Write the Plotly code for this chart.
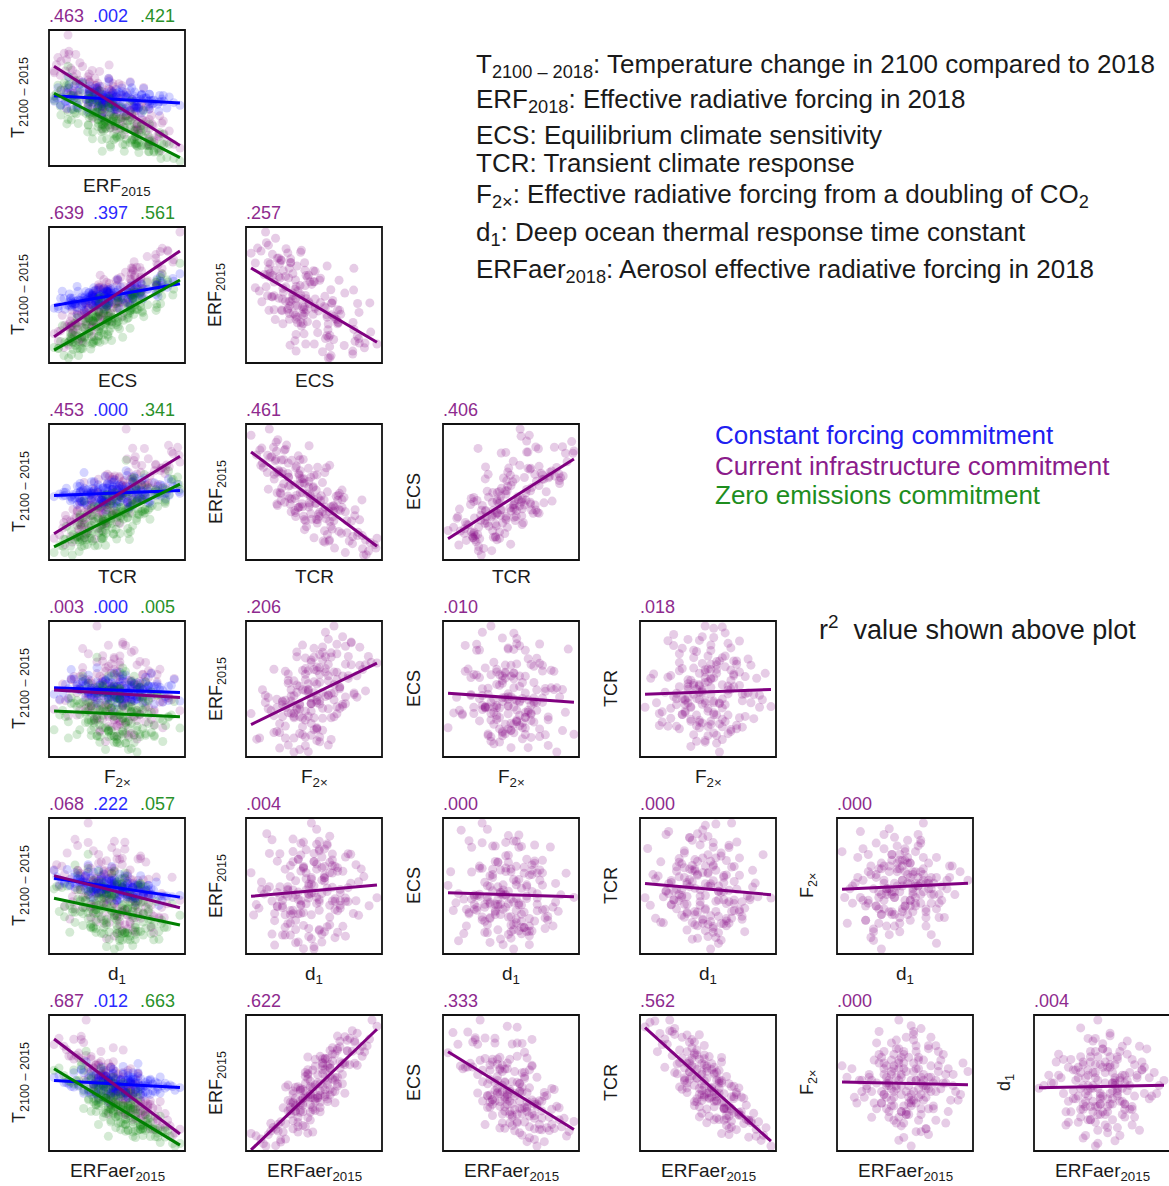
import numpy as np
import plotly.graph_objects as go

# ---------------------------------------------------------------------------
# Ensemble members (standardised values, one entry per member)
# ---------------------------------------------------------------------------
ERFAER = [
    0.3, -1.1, 0.9, -0.2, 1.6, -0.6, 0.0, -1.8, 0.6, -0.4,
    1.1, -0.9, 0.4, -0.1, 2.2, -1.4, 0.7, -0.3, 1.3, -0.7,
    0.1, -1.2, 0.5, -2.4, 0.8, -0.5, 1.0, -0.8, 0.2, -1.0,
    1.9, -0.2, 0.6, -1.5, 0.3, -0.6, 1.4, -0.1, 0.9, -2.0,
    0.0, 1.2, -0.9, 0.4, -0.3, 1.7, -0.7, 0.5, -1.3, 0.2,
    2.5, -0.4, 0.7, -1.1, 0.1, -0.6, 1.5, -0.2, -1.6, 0.8,
    -0.8, 0.3, -0.5, 1.0, -0.1, 0.6, -1.9, 0.4, -0.3, 1.1,
    -0.7, 0.0, 1.8, -1.2, 0.5, -0.4, 0.9, -2.2, 0.2, -0.9,
    1.3, -0.2, 0.7, -0.5, 0.3, -1.0, 1.6, -0.6, 0.1, -1.4,
    0.8, -0.3, 1.2, -0.8, 0.4, -1.7, 0.6, -0.1, 2.0, -0.5,
    0.5, -0.8, 1.2, -0.1, 0.3, -1.5, 0.9, -0.4, 0.0, 1.7,
    -0.6, 0.4, -1.0, 0.7, -0.3, 2.1, -0.2, 0.6, -1.2, 0.2,
    -0.5, 1.0, -0.9, 0.1, -1.8, 0.8, -0.4, 1.4, -0.7, 0.3,
    -0.1, 0.5, -2.1, 0.9, -0.3, 1.5, -0.6, 0.2, -1.1, 0.6,
    -0.2, 1.1, -0.9, 0.4, -1.4, 0.0, 0.7, -0.5, 1.9, -0.3,
    0.2, -0.8, 1.3, -0.1, 0.5, -1.6, 0.9, -0.4, 0.1, -2.6,
    1.6, -0.7, 0.3, -0.2, 1.0, -1.3, 0.6, -0.6, 0.4, -0.9,
    2.3, -0.2, 0.8, -1.0, 0.2, -0.5, 1.2, -0.3, 0.0, -0.8,
]

F2X = [
    -0.5, 0.8, 1.3, -1.4, 0.1, 0.4, -0.9, -0.2, 2.0, -0.1,
    -0.7, 0.6, 0.2, 1.1, -0.3, -1.1, 0.9, -1.9, 0.5, 0.0,
    -0.6, 1.5, -1.2, 0.3, -0.4, 0.7, 1.7, -0.8, 0.2, -0.2,
    0.0, 1.0, -1.6, 0.4, 0.8, -0.5, -0.1, 1.2, 0.3, -0.6,
    -1.0, 1.4, -0.3, 0.6, 2.3, -0.9, 0.1, -0.4, 0.9, -2.1,
    0.5, -1.3, 0.4, 1.9, 0.0, -0.7, 1.1, 0.3, -0.1, -1.5,
    0.7, 1.6, -0.4, -0.2, 0.8, -0.8, 0.2, -0.6, 1.3, 0.1,
    -1.1, 0.5, -0.5, -0.8, 1.0, 0.0, -1.7, 0.6, -0.3, 1.2,
    0.7, -0.9, 0.2, -0.2, 1.8, -0.6, 0.4, 0.9, -1.0, 0.2,
    -0.1, 0.6, -1.2, 0.0, 1.4, -0.4, 0.3, -0.7, -0.2, 1.1,
    0.9, -0.4, 0.2, -1.3, 0.5, 0.3, -0.8, 1.6, -0.2, 0.6,
    -0.1, 1.2, -0.6, 0.0, 0.8, -0.5, 0.4, -1.0, 0.1, 2.1,
    -0.7, 0.7, -0.3, 1.0, 0.2, -1.5, 0.3, 0.9, -0.9, -0.2,
    0.6, -0.1, -0.4, 1.4, -1.1, 0.1, 0.5, -0.6, 1.1, -0.3,
    0.0, -0.8, 0.8, 0.2, -0.2, 1.7, -0.5, -1.2, 0.4, 0.9,
    -0.7, 0.3, 1.2, -1.8, 0.6, 0.0, -0.1, 1.3, -0.4, 0.7,
    -1.3, 0.2, 1.9, -0.9, 0.3, -0.6, 0.1, 1.5, -1.6, 0.4,
    0.8, -0.3, 0.0, 1.0, -0.5, 0.6, -0.2, 0.2, -1.0, 0.1,
]

D1 = [
    1.2, -0.4, 0.2, -1.0, 0.7, 1.9, -0.3, 0.5, -1.5, 0.0,
    -0.8, 2.3, -0.6, 0.9, -0.2, -1.3, 0.4, 1.4, -1.1, -0.5,
    0.6, -0.1, -2.0, 0.1, 1.6, -0.7, 0.3, 1.0, -1.7, 0.8,
    -0.4, 0.0, 1.2, -0.9, 2.0, -1.2, 0.5, -0.3, -0.6, 0.2,
    1.7, -1.4, 0.6, -0.1, 0.9, -0.2, -1.8, 0.4, 1.1, -0.7,
    0.3, -0.5, 1.4, 0.7, -1.0, 0.1, -1.6, 2.6, -0.2, 0.0,
    -0.8, 0.8, -1.2, 1.3, -0.6, -0.3, 1.0, 0.2, -2.2, 0.6,
    0.4, -0.9, 1.5, -0.4, 0.1, 1.8, -1.1, 0.5, -1.5, 0.0,
    0.9, -0.7, 0.3, 1.2, -0.2, -1.3, 0.7, -0.1, 1.0, 0.8,
    -0.5, 0.6, -0.8, -1.9, 0.2, 0.4, 1.1, -0.6, -0.3, 1.4,
    0.3, -0.6, 1.1, -0.2, 0.9, -1.4, 0.5, -0.9, 1.5, 0.8,
    -0.3, -1.2, 0.4, -0.5, 1.9, 0.6, -1.6, 0.0, 0.7, -0.4,
    1.0, -0.1, -0.8, 0.2, 1.3, -1.0, 0.1, 0.4, -0.7, 2.1,
    -0.4, 0.9, 0.2, -0.6, -1.3, 1.6, 0.5, -0.9, 0.3, -0.2,
    1.2, 0.1, -1.1, 0.6, -0.5, 0.8, -1.8, 0.0, 0.4, -0.7,
    1.4, 0.9, -0.3, -1.0, 0.2, 1.1, -0.8, 0.6, -1.4, 0.0,
    1.0, -0.2, -0.6, 0.3, 1.8, -0.9, -0.1, 0.7, -0.4, 1.2,
    0.1, -2.1, 0.5, -0.3, 0.8, -1.2, -0.7, 0.4, 1.5, 0.1,
]

ERF = [
    0.13, -0.69, 1.34, -0.48, 1.61, -0.74, -0.38, -1.37, 1.34, 0.23,
    0.22, -0.42, -0.14, 0.68, 1.72, -1.74, 1.43, -1.44, 1.33, -0.91,
    0.52, 0.11, -0.38, -1.53, 0.34, -0.72, 1.65, -0.55, -0.02, -0.80,
    1.14, 0.31, 0.03, -1.14, 0.82, -0.45, 0.86, -0.25, 1.40, -1.87,
    -0.68, 1.80, -1.29, 0.69, 1.12, 0.84, 0.12, -0.29, -0.59, -0.58,
    2.15, -1.22, 1.22, 0.18, -0.24, 0.01, 2.00, -0.15, -1.86, -0.04,
    0.10, 0.69, -0.43, 0.74, 0.11, 0.75, -1.49, 0.02, 0.69, 0.90,
    -1.22, 0.81, 1.33, -1.64, 0.31, -0.25, 0.22, -1.64, 0.22, -0.02,
    1.32, -1.00, 0.98, -0.50, 0.90, -0.68, 1.66, -0.35, -0.18, -1.06,
    0.42, 0.52, -0.10, -0.50, 1.06, -1.25, 0.74, -0.57, 1.29, -0.27,
    0.81, -0.69, 0.86, -0.65, 0.93, -1.37, 0.44, -0.03, 0.19, 1.92,
    -0.67, 1.08, -0.57, -0.05, 0.39, 1.49, 0.13, -0.16, -1.12, 1.14,
    -0.27, 1.46, -1.02, 0.25, -1.11, -0.42, 0.47, 1.75, -1.40, 0.56,
    0.04, 0.20, -1.79, 1.82, -0.92, 1.31, -0.01, -0.72, -0.34, 0.87,
    -0.25, 0.53, -0.12, 0.41, -1.66, 1.04, 0.38, -1.18, 1.48, 0.56,
    -0.16, -0.26, 1.68, -1.40, 1.07, -1.31, 0.14, 0.60, -0.26, -1.45,
    0.91, -1.08, 1.06, -0.13, 0.96, -1.40, 0.49, 0.06, -0.21, -0.40,
    2.36, -0.73, 1.22, -0.40, -0.40, 0.03, 0.93, -0.21, -0.28, -0.72,
]

ECS = [
    -0.19, 1.31, -1.16, 1.15, -1.01, 0.54, -0.27, 2.24, -0.37, 0.15,
    -1.18, 0.90, 0.81, -0.95, -1.41, 1.81, -0.71, -0.39, 0.12, 1.85,
    -1.23, 0.49, -0.41, 2.22, -0.62, 0.07, -1.76, 1.19, 2.41, 0.01,
    -0.42, -0.30, -0.42, 1.97, -0.44, 0.09, -1.12, 1.28, -0.69, 0.95,
    1.82, -0.53, -0.22, 0.31, -1.14, 0.22, 0.18, 0.61, 1.25, -0.91,
    -0.90, 0.85, 0.91, -1.01, 0.09, 0.27, -1.22, 0.05, 1.01, 1.98,
    -0.30, 0.43, -0.20, 0.65, -0.66, -0.20, 1.00, -1.38, 0.47, -1.00,
    2.02, -0.74, -0.37, -0.18, 1.53, -0.95, -0.30, 1.81, -0.95, 1.08,
    -1.61, 2.44, -1.09, 0.91, 0.17, -0.01, -0.47, 0.13, 0.85, 0.10,
    1.04, -0.54, -0.19, -0.14, -0.63, 1.14, 1.33, -0.18, -1.09, 1.35,
    0.68, -0.13, -0.78, 0.22, -1.30, 2.04, -0.22, 1.07, -1.04, -1.15,
    1.29, 0.13, -0.41, 0.28, -0.11, -0.79, -0.01, 0.11, 0.90, 1.85,
    -1.13, -0.37, 0.58, -0.01, 1.01, 1.07, -0.64, 0.01, 0.46, 0.14,
    -0.55, 0.83, 1.05, -1.53, 0.94, -0.75, 0.68, -0.64, 2.03, -0.55,
    0.18, -0.17, -0.40, 1.84, 0.75, 0.49, -1.47, 0.96, -0.84, -0.04,
    0.48, -0.69, -0.02, 0.16, -0.92, 1.89, -0.79, 0.37, -0.48, 1.51,
    0.26, -0.18, 0.43, -0.12, -0.29, 2.66, -1.61, 1.11, -0.46, 0.03,
    -1.25, 0.95, -0.15, 0.42, 1.39, -0.37, -1.19, 0.49, -0.67, 1.28,
]

TCR = [
    -0.45, 1.49, -1.08, -0.01, -1.06, 0.57, 0.90, 0.57, -0.24, -0.95,
    -0.26, 1.05, 0.14, -1.13, -1.51, 1.76, -1.21, 0.42, -0.34, 0.61,
    -0.34, -0.03, -0.50, 1.95, -1.31, 1.10, -0.82, 1.34, 0.40, 0.19,
    -1.54, 0.95, -0.66, 0.93, 0.18, -0.48, -0.38, 0.61, -1.26, 1.61,
    -0.21, -0.06, 0.09, -0.22, -0.45, -1.13, 0.31, 0.73, 0.67, -0.47,
    -1.84, 1.57, -0.70, -0.10, 0.68, -0.60, -1.02, -0.28, 1.69, -0.92,
    0.77, -0.33, 0.26, -0.01, -0.71, -0.69, 1.27, 0.08, -0.27, -1.34,
    1.42, -0.36, -0.84, 0.72, 0.16, -0.26, -0.33, 1.99, -1.04, 1.56,
    -0.91, 0.65, -1.00, 0.23, 0.42, 0.16, -1.57, 1.35, -0.04, 0.41,
    0.07, -0.84, -0.81, 0.44, 0.47, 1.28, -0.69, -0.23, -1.10, 0.95,
    0.09, 0.20, -0.90, 0.45, -0.98, 1.67, -0.69, 0.82, -0.93, -1.07,
    0.02, 0.20, 0.25, 0.29, 0.06, -1.67, 0.83, -1.05, 1.10, 0.57,
    -0.39, -0.39, -0.20, 0.50, 1.44, -0.61, -0.64, -1.15, 1.17, -0.24,
    0.22, 0.87, 1.05, -0.75, -0.14, -0.59, 0.95, -0.17, 0.85, -0.71,
    -0.34, -0.20, -0.06, -0.07, 1.58, -0.08, -0.90, 0.50, -1.33, 0.35,
    -0.64, 0.43, -0.79, 0.55, -1.46, 2.02, -0.02, -0.07, -0.07, 1.81,
    -1.05, 0.85, -0.47, 0.16, -0.33, 0.37, -0.50, 1.01, -1.03, 0.69,
    -1.28, 1.24, -1.49, 0.55, 0.36, -0.49, -0.87, 0.69, -0.39, 0.70,
]

# Warming 2100 relative to present under the three commitment scenarios
T_CURRENT = [
    -0.45, 1.36, -1.09, 0.84, -1.40, -0.06, -0.03, 2.24, -0.20, 0.31,
    -1.13, 0.67, 0.15, -0.59, -2.07, 2.09, -0.89, -0.22, -0.68, 1.69,
    -1.02, 0.93, 0.27, 2.28, -1.07, 0.46, -1.46, 0.54, 1.76, 0.21,
    -1.09, 0.26, -0.93, 2.23, -1.13, 0.85, -1.45, 0.79, -0.50, 1.49,
    0.68, -0.75, 0.50, -0.28, -0.69, -0.55, 0.80, -0.02, 1.51, -0.63,
    -1.79, 0.49, -0.11, -0.11, 0.45, 0.37, -1.20, -0.36, 1.41, 0.71,
    0.52, -0.31, 0.74, -0.67, -0.07, -0.47, 1.49, -1.07, 1.01, -1.02,
    1.24, -0.10, -1.58, 0.65, 0.92, -1.11, -0.24, 1.93, -0.43, 1.10,
    -1.78, 1.86, -1.30, 0.56, -0.14, 0.97, -1.33, 0.62, 0.08, 0.40,
    0.39, -0.30, -0.66, 1.17, -0.66, 1.52, 0.22, -0.14, -1.39, 0.58,
    -0.10, 0.62, -1.17, 0.11, -1.13, 2.37, -0.78, 1.16, -0.97, -1.71,
    1.00, 0.10, 0.20, 0.24, -0.68, -1.64, 0.57, -0.22, 1.00, 0.75,
    -0.40, -0.97, 1.07, -0.24, 1.35, 0.69, -0.50, -0.84, 0.71, -0.52,
    0.02, -0.07, 1.77, -1.32, 0.99, -1.82, 0.66, -0.12, 1.47, -0.32,
    -0.09, -0.53, 0.36, 0.84, 1.30, -0.29, -0.63, 0.84, -1.71, 0.53,
    -0.07, -0.41, -0.52, 0.50, -0.95, 1.62, -0.55, -0.11, 0.12, 2.00,
    -0.89, 0.61, -0.01, 0.10, -1.16, 3.10, -1.36, 0.60, -0.12, -0.15,
    -1.96, 1.23, -0.77, 0.94, 0.55, 0.24, -0.89, 0.19, -0.59, 1.09,
]

T_CONSTANT = [
    -0.03, 0.56, 0.01, 0.73, 0.00, -0.35, 0.15, 0.74, 0.45, 0.37,
    0.16, -0.20, 0.43, -0.28, 0.12, 0.74, 0.01, -0.18, 0.45, 1.00,
    -0.20, 0.51, 0.34, 0.62, 0.09, -0.24, -0.31, 0.33, 1.02, 0.23,
    0.27, -0.05, -0.16, 0.91, -0.17, 0.47, -0.08, 0.43, 0.17, 0.23,
    0.46, 0.39, -0.22, 0.60, -0.26, 0.55, 0.39, 0.23, 0.31, 0.05,
    0.07, 0.41, 0.30, -0.24, 0.43, 0.22, 0.33, -0.14, 0.13, 1.15,
    0.01, 0.24, 0.58, 0.07, 0.25, 0.22, 0.12, -0.36, 0.97, -0.11,
    0.61, 0.13, 0.16, -0.05, 0.54, -0.59, 0.48, 0.30, 0.66, 0.20,
    -0.23, 0.90, -0.14, 0.27, -0.06, 0.59, 0.10, 0.16, 0.40, -0.18,
    0.57, 0.37, 0.24, 0.52, -0.39, 0.37, 0.74, 0.10, 0.13, 0.10,
    0.37, 0.15, -0.17, 0.47, -0.17, 0.87, 0.01, 0.36, -0.11, -0.17,
    0.83, 0.43, 0.22, -0.02, -0.17, 0.19, 0.29, 0.53, -0.14, 0.71,
    -0.07, 0.18, 0.64, -0.34, 0.10, 0.75, 0.44, 0.23, 0.17, -0.17,
    0.03, 0.32, 0.30, 0.13, 0.62, -0.12, 0.13, 0.05, 0.81, 0.16,
    0.03, 0.30, 0.28, 0.73, -0.03, 0.21, 0.45, 0.28, 0.05, 0.34,
    0.31, -0.46, 0.39, 0.13, 0.45, 0.22, -0.24, 0.39, 0.22, 0.53,
    0.27, -0.04, 0.40, 0.07, -0.18, 1.23, -0.34, 0.41, 0.29, -0.13,
    -0.05, 0.69, 0.27, 0.25, 0.18, 0.60, 0.12, 0.02, -0.09, 0.38,
]

T_ZERO = [
    -1.33, 0.46, -1.67, -0.36, -1.97, -1.24, -0.70, 0.86, -0.89, -0.86,
    -1.43, -0.52, -0.78, -1.72, -2.43, 0.85, -1.86, -0.88, -1.49, 0.93,
    -1.81, -0.01, -0.86, 0.95, -1.46, -0.94, -2.07, -0.37, 0.28, -0.41,
    -1.84, -0.65, -1.92, 1.06, -1.58, -0.35, -1.81, -0.25, -1.63, 0.37,
    -0.41, -1.35, -0.70, -0.72, -1.47, -1.21, -0.64, -0.71, 0.36, -1.55,
    -2.43, -0.24, -1.21, -0.99, -0.19, -1.05, -1.79, -1.03, 0.17, -0.11,
    -0.74, -1.04, 0.12, -1.61, -0.78, -1.57, 0.31, -1.83, 0.15, -1.84,
    0.24, -1.18, -1.86, -0.48, -0.16, -2.11, -0.96, 0.62, -0.74, -0.17,
    -2.12, 0.54, -2.16, -0.41, -1.36, 0.10, -2.14, -0.08, -0.74, -0.86,
    -0.59, -0.74, -1.55, 0.21, -1.85, 0.39, -0.45, -1.24, -1.86, -0.51,
    -0.85, -0.60, -1.76, -0.51, -1.88, 1.22, -1.80, 0.03, -1.53, -2.39,
    0.25, -0.87, -0.57, -0.93, -1.39, -2.11, -0.59, -0.83, -0.43, -0.28,
    -1.09, -1.78, 0.16, -1.49, 0.23, -0.37, -1.03, -1.75, -0.33, -1.57,
    -0.78, -0.58, 0.47, -1.80, -0.31, -2.13, -0.50, -0.92, 0.60, -1.46,
    -0.94, -1.15, -0.69, -0.13, -0.09, -1.13, -1.10, -0.38, -2.14, -0.51,
    -0.75, -1.58, -1.26, -0.68, -1.26, 0.40, -1.59, -0.76, -0.90, 0.85,
    -1.76, -0.16, -0.95, -1.10, -1.75, 1.70, -2.11, 0.03, -1.19, -1.00,
    -2.54, 0.26, -1.84, -0.10, -0.69, -0.41, -1.61, -0.90, -1.22, -0.08,
]

# r^2 values printed above each panel
# first column: current infrastructure, constant forcing, zero emissions
R2_TEMPERATURE = [
    [".463", ".002", ".421"],
    [".639", ".397", ".561"],
    [".453", ".000", ".341"],
    [".003", ".000", ".005"],
    [".068", ".222", ".057"],
    [".687", ".012", ".663"],
]
# remaining columns, one list per row
R2_PAIRS = [
    [],
    [".257"],
    [".461", ".406"],
    [".206", ".010", ".018"],
    [".004", ".000", ".000", ".000"],
    [".622", ".333", ".562", ".000", ".004"],
]

PARAM_KEYS = ["ERF", "ECS", "TCR", "F2X", "D1", "ERFAER"]
PARAM_DATA = {"ERF": ERF, "ECS": ECS, "TCR": TCR,
              "F2X": F2X, "D1": D1, "ERFAER": ERFAER}
PARAM_LABEL = {
    "ERF": "ERF<sub>2015</sub>",
    "ECS": "ECS",
    "TCR": "TCR",
    "F2X": "F<sub>2\u00d7</sub>",
    "D1": "d<sub>1</sub>",
    "ERFAER": "ERFaer<sub>2015</sub>",
}
T_LABEL = "T<sub>2100 \u2013 2015</sub>"

SCENARIOS = [  # name, values, point/line colour, label colour
    ("Current infrastructure commitment", T_CURRENT, "#800080", "#8e2a8e"),
    ("Constant forcing commitment", T_CONSTANT, "#0000ff", "#2a2aff"),
    ("Zero emissions commitment", T_ZERO, "#008000", "#2a912a"),
]
PURPLE, PURPLE_TXT = "#800080", "#8e2a8e"

# ---------------------------------------------------------------------------
# Layout geometry (pixels)
# ---------------------------------------------------------------------------
W, H = 1169, 1186
PANEL = 136
PITCH = 197
LEFT0, TOP0 = 49, 30
FONT = "Liberation Sans, Arial, sans-serif"
INK = "#1a1a1a"


def padded(vals):
    lo, hi = float(np.min(vals)), float(np.max(vals))
    pad = 0.04 * (hi - lo)
    return [lo - pad, hi + pad]


def fit_line(x, y):
    x = np.asarray(x, float)
    y = np.asarray(y, float)
    slope, icpt = np.polyfit(x, y, 1)
    xs = np.array([x.min(), x.max()])
    return xs, slope * xs + icpt


fig = go.Figure()
layout = {}
shapes = []
annotations = []
axis_count = 0


def new_axes(row, col, xrange_, yrange_):
    global axis_count
    axis_count += 1
    n = axis_count
    left = LEFT0 + PITCH * col
    top = TOP0 + PITCH * row
    xd = [left / W, min(1.0, (left + PANEL) / W)]
    yd = [1 - (top + PANEL) / H, 1 - top / H]
    suffix = "" if n == 1 else str(n)
    common = dict(showgrid=False, zeroline=False, showticklabels=False,
                  ticks="", showline=False, fixedrange=True)
    layout["xaxis" + suffix] = dict(domain=xd, range=xrange_,
                                    anchor="y" + suffix, **common)
    layout["yaxis" + suffix] = dict(domain=yd, range=yrange_,
                                    anchor="x" + suffix, **common)
    shapes.append(dict(type="rect", xref="paper", yref="paper",
                       x0=left / W, x1=(left + PANEL) / W,
                       y0=yd[0], y1=yd[1], layer="above",
                       line=dict(color="#111111", width=1.8)))
    return "x" + suffix, "y" + suffix, left, top


def add_titles(left, top, xlabel, ylabel):
    cx = (left + PANEL / 2) / W
    cy = 1 - (top + PANEL / 2) / H
    drop = -21 if "<sub>" in xlabel else -17
    annotations.append(dict(
        x=cx, y=1 - (top + PANEL) / H, xref="paper", yref="paper",
        text=xlabel, showarrow=False, xanchor="center", yanchor="middle",
        yshift=drop, font=dict(family=FONT, size=19, color=INK)))
    annotations.append(dict(
        x=left / W, y=cy, xref="paper", yref="paper", text=ylabel,
        showarrow=False, xanchor="center", yanchor="middle", textangle=-90,
        xshift=-29, font=dict(family=FONT, size=18, color=INK)))


def add_r2(left, top, labels, colors):
    offsets = [0, 44, 91]
    for k, (lab, colr) in enumerate(zip(labels, colors)):
        annotations.append(dict(
            x=left / W, y=1 - top / H, xref="paper", yref="paper",
            text=lab, showarrow=False, xanchor="left", yanchor="middle",
            xshift=offsets[k] - 2, yshift=14,
            font=dict(family=FONT, size=18, color=colr)))


T_ALL = T_CURRENT + T_CONSTANT + T_ZERO
t_range = padded(T_ALL)

for row, key in enumerate(PARAM_KEYS):
    xvals = PARAM_DATA[key]
    xr = padded(xvals)

    # first column: warming against this parameter for all scenarios
    xa, ya, left, top = new_axes(row, 0, xr, t_range)
    for name, tvals, colr, _ in SCENARIOS:
        fig.add_trace(go.Scatter(
            x=xvals, y=tvals, mode="markers", xaxis=xa, yaxis=ya,
            marker=dict(size=9, color=colr, opacity=0.17,
                        line=dict(width=0)),
            name=name, hoverinfo="skip", showlegend=False))
    for name, tvals, colr, _ in [SCENARIOS[1], SCENARIOS[2], SCENARIOS[0]]:
        lx, ly = fit_line(xvals, tvals)
        fig.add_trace(go.Scatter(
            x=lx, y=ly, mode="lines", xaxis=xa, yaxis=ya,
            line=dict(color=colr, width=3), hoverinfo="skip",
            showlegend=False))
    add_titles(left, top, PARAM_LABEL[key], T_LABEL)
    add_r2(left, top, R2_TEMPERATURE[row], [s[3] for s in SCENARIOS])

    # parameter-parameter panels
    for col in range(1, row + 1):
        ykey = PARAM_KEYS[col - 1]
        yvals = PARAM_DATA[ykey]
        xa, ya, left, top = new_axes(row, col, xr, padded(yvals))
        fig.add_trace(go.Scatter(
            x=xvals, y=yvals, mode="markers", xaxis=xa, yaxis=ya,
            marker=dict(size=9, color=PURPLE, opacity=0.2,
                        line=dict(width=0)),
            hoverinfo="skip", showlegend=False))
        lx, ly = fit_line(xvals, yvals)
        fig.add_trace(go.Scatter(
            x=lx, y=ly, mode="lines", xaxis=xa, yaxis=ya,
            line=dict(color=PURPLE, width=3), hoverinfo="skip",
            showlegend=False))
        add_titles(left, top, PARAM_LABEL[key], PARAM_LABEL[ykey])
        add_r2(left, top, [R2_PAIRS[row][col - 1]], [PURPLE_TXT])

# ---------------------------------------------------------------------------
# Variable glossary and scenario key
# ---------------------------------------------------------------------------
GLOSSARY = [
    ("T<sub>2100 \u2013 2018</sub>: Temperature change in 2100 compared to 2018", 65),
    ("ERF<sub>2018</sub>: Effective radiative forcing in 2018", 101),
    ("ECS: Equilibrium climate sensitivity", 135),
    ("TCR: Transient climate response", 163),
    ("F<sub>2\u00d7</sub>: Effective radiative forcing from a doubling of CO<sub>2</sub>", 196),
    ("d<sub>1</sub>: Deep ocean thermal response time constant", 233),
    ("ERFaer<sub>2018</sub>: Aerosol effective radiative forcing in 2018", 270),
]
for text, ypix in GLOSSARY:
    annotations.append(dict(
        x=474 / W, y=1 - ypix / H, xref="paper", yref="paper", text=text,
        showarrow=False, xanchor="left", yanchor="middle",
        font=dict(family=FONT, size=26, color=INK)))

KEY = [
    ("Constant forcing commitment", "#2020f0", 435),
    ("Current infrastructure commitment", "#8b1c8b", 466),
    ("Zero emissions commitment", "#1e8e1e", 495),
]
for text, colr, ypix in KEY:
    annotations.append(dict(
        x=713 / W, y=1 - ypix / H, xref="paper", yref="paper", text=text,
        showarrow=False, xanchor="left", yanchor="middle",
        font=dict(family=FONT, size=26, color=colr)))

annotations.append(dict(
    x=817 / W, y=1 - 628 / H, xref="paper", yref="paper",
    text="r<sup>2</sup>  value shown above plot", showarrow=False,
    xanchor="left", yanchor="middle",
    font=dict(family=FONT, size=27, color=INK)))

fig.update_layout(
    width=W, height=H, margin=dict(l=0, r=0, t=0, b=0),
    paper_bgcolor="white", plot_bgcolor="white", showlegend=False,
    shapes=shapes, annotations=annotations, **layout)

fig.write_html("out.html")
